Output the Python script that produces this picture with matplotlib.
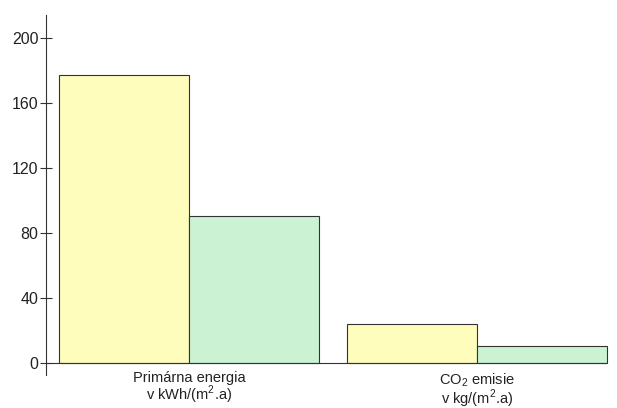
import matplotlib
matplotlib.use("Agg")
import matplotlib.pyplot as plt

categories = ["Primárna energia\nv kWh/(m$^2$.a)", "CO$_2$ emisie\nv kg/(m$^2$.a)"]
series_a = [177, 24]
series_b = [90.5, 10.5]
yticks = [0, 40, 80, 120, 160, 200]

YELLOW = "#FFFDBB"
GREEN = "#CBF2D3"
INK = "#333333"

plt.rcParams["font.family"] = ["Liberation Sans", "DejaVu Sans"]
plt.rcParams["mathtext.fontset"] = "custom"
plt.rcParams["mathtext.rm"] = "Liberation Sans"

fig = plt.figure(figsize=(6.17, 4.08), dpi=100)
W, H = 617, 408
# axes box in pixels: y-axis at x=46, y=0 at 363 px, 1.625 px per unit
left_px, right_px = 46, 617
bottom_px, top_px = 375, 15
ax = fig.add_axes([left_px / W, (H - bottom_px) / H, (right_px - left_px) / W, (bottom_px - top_px) / H])

width = 130 / 288
x = [0, 1]
ax.bar([p - width / 2 for p in x], series_a, width=width, color=YELLOW, edgecolor=INK, linewidth=0.8)
ax.bar([p + width / 2 for p in x], series_b, width=width, color=GREEN, edgecolor=INK, linewidth=0.8)

xl = -(189 - 46) / 288
ax.set_xlim(xl, 1 + (617 - 477) / 288)
ax.set_ylim(-(bottom_px - 363) / 1.625, (363 - top_px) / 1.625)
ax.hlines(0, xl, 1 + width, color=INK, linewidth=0.8, zorder=3)

for s in ["top", "right", "bottom"]:
    ax.spines[s].set_visible(False)
ax.spines["left"].set_color(INK)
ax.spines["left"].set_linewidth(0.8)

ax.set_yticks(yticks)
ax.tick_params(axis="y", direction="inout", length=9, width=0.8, color=INK, labelsize=11.5, labelcolor="#222222", pad=1)
ax.set_xticks(x)
ax.set_xticklabels(categories, fontsize=10.5, color="#222222", linespacing=0.92)
ax.tick_params(axis="x", length=0, pad=-3)

fig.savefig("out.png", dpi=100)
